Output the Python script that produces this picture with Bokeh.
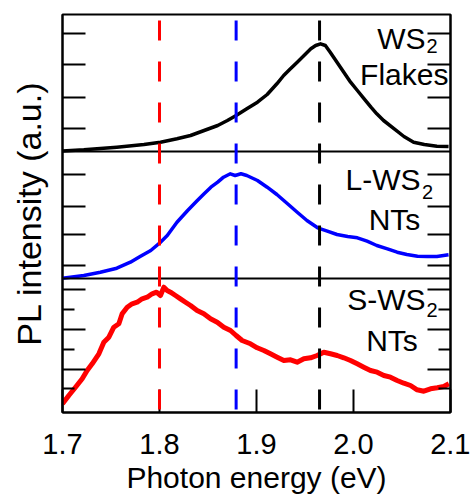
from bokeh.plotting import figure
from bokeh.models import Range1d, FixedTicker, LinearAxis, Span, Label
from bokeh.embed import file_html
from bokeh.resources import INLINE

# ---------------- data ----------------
# WS2 flakes (top panel), intensity in a.u.
flakes_energy = [1.700, 1.722, 1.756, 1.784, 1.801, 1.818, 1.832, 1.846, 1.860, 1.870,
                 1.879, 1.890, 1.901, 1.911, 1.921, 1.928, 1.935, 1.942, 1.949, 1.956,
                 1.961, 1.966, 1.971, 1.976, 1.983, 1.990, 1.997, 2.004, 2.011, 2.018,
                 2.024, 2.031, 2.042, 2.052, 2.062, 2.073, 2.086, 2.098]
flakes_intensity = [0.5, 1.7, 4.3, 7.0, 9.3, 12.7, 16.0, 21.0, 26.0, 31.0,
                    36.0, 42.7, 49.3, 57.0, 67.7, 76.0, 82.7, 89.3, 96.0, 102.7,
                    106.0, 107.7, 106.0, 99.3, 89.3, 79.3, 69.3, 61.0, 52.7, 44.3,
                    37.7, 31.0, 22.7, 15.0, 9.3, 7.0, 5.3, 5.0]

# L-WS2 NTs (middle panel)
lnt_energy = [1.700, 1.722, 1.739, 1.756, 1.770, 1.780, 1.791, 1.800, 1.808, 1.818,
              1.829, 1.839, 1.846, 1.853, 1.860, 1.866, 1.873, 1.878, 1.884, 1.890,
              1.901, 1.911, 1.921, 1.932, 1.942, 1.952, 1.963, 1.973, 1.983, 1.994,
              2.004, 2.014, 2.024, 2.035, 2.045, 2.055, 2.066, 2.076, 2.086, 2.098]
lnt_intensity = [0.3, 3.0, 6.3, 10.3, 16.3, 22.0, 28.0, 35.3, 43.0, 56.3,
                 68.0, 78.0, 84.7, 91.3, 96.3, 101.3, 104.7, 103.0, 104.7, 103.0,
                 98.0, 91.3, 84.0, 74.7, 66.3, 58.0, 50.7, 47.3, 44.0, 42.0,
                 40.7, 37.3, 33.0, 29.7, 26.3, 24.0, 22.3, 22.0, 22.0, 23.7]

# S-WS2 NTs (bottom panel)
snt_energy = [1.700, 1.7065, 1.7134, 1.7203, 1.7254, 1.7306, 1.7375, 1.7426, 1.7478, 1.7529,
              1.7581, 1.7615, 1.7667, 1.7718, 1.7770, 1.7821, 1.7873, 1.7924, 1.7969, 1.8010,
              1.8045, 1.8079, 1.8113, 1.8165, 1.8216, 1.8268, 1.8320, 1.8388, 1.8457, 1.8526,
              1.8595, 1.8663, 1.8732, 1.8790, 1.8852, 1.8938, 1.9007, 1.9076, 1.9144, 1.9213,
              1.9282, 1.9351, 1.9419, 1.9488, 1.9557, 1.9625, 1.9694, 1.9763, 1.9832, 1.9900,
              1.9969, 2.0038, 2.0106, 2.0175, 2.0244, 2.0313, 2.0381, 2.0450, 2.0519, 2.0588,
              2.0656, 2.0725, 2.0794, 2.0863, 2.0931, 2.0983]
snt_intensity = [8.7, 17.0, 25.3, 33.7, 42.0, 48.7, 58.7, 70.3, 75.3, 85.3,
                 88.7, 98.7, 105.3, 108.7, 110.3, 113.7, 115.3, 118.7, 120.3, 117.0,
                 125.3, 122.0, 120.3, 117.0, 113.7, 110.3, 107.0, 102.0, 98.7, 93.7,
                 90.3, 85.3, 82.0, 77.0, 72.0, 68.7, 64.7, 62.0, 58.7, 55.3,
                 52.0, 52.7, 50.3, 53.7, 54.7, 57.0, 60.3, 58.7, 57.0, 54.7,
                 52.0, 48.7, 45.3, 42.0, 40.3, 37.0, 35.3, 32.0, 29.3, 27.0,
                 22.7, 21.3, 23.7, 24.7, 26.0, 28.7]

# peak positions (eV) marked by dashed lines
peak_energies = [1.800, 1.879, 1.965]
peak_colors = ["#ff0000", "#0000ff", "#000000"]

# y ticks of each panel (a.u., relative to the panel's own zero)
flakes_ticks = [23, 54, 87, 118]
lnt_ticks = [13, 44, 72, 104]
snt_ticks = [43, 83, 123]
snt_minor_ticks = [24, 63, 103]

x_ticks = [1.7, 1.8, 1.9, 2.0, 2.1]
x_tick_labels = ["1.7", "1.8", "1.9", "2.0", "2.1"]

# ---------------- layout of the stacked panels ----------------
base_snt, base_lnt, base_flakes, y_top = 0, 134, 261, 398

FONT = "Liberation Sans"

p = figure(width=470, height=496, output_backend="svg", toolbar_location=None,
           x_range=Range1d(1.7, 2.1), y_range=Range1d(0, y_top),
           min_border_left=62, min_border_right=20, min_border_top=14, min_border_bottom=84)
p.background_fill_color = "white"
p.border_fill_color = "white"
p.outline_line_color = "black"
p.outline_line_width = 2
p.xgrid.visible = False
p.ygrid.visible = False

# x axis
xa = p.xaxis[0]
xa.ticker = FixedTicker(ticks=x_ticks, minor_ticks=[])
xa.major_label_overrides = {t: l for t, l in zip(x_ticks, x_tick_labels)}
xa.major_tick_in = 23
xa.major_tick_out = 0
xa.minor_tick_in = 0
xa.minor_tick_out = 0
xa.major_tick_line_width = 2
xa.axis_line_width = 2
xa.major_label_text_font = FONT
xa.major_label_text_font_size = "29px"
xa.major_label_text_color = "black"
xa.major_label_standoff = 21
xa.axis_label = "Photon energy (eV)"
xa.axis_label_text_font = FONT
xa.axis_label_text_font_size = "30px"
xa.axis_label_text_font_style = "normal"
xa.axis_label_text_color = "black"
xa.axis_label_standoff = 4

# y axis ticks, stacked per panel
y_major = ([base_flakes + t for t in flakes_ticks] + [base_lnt + t for t in lnt_ticks]
           + [base_snt + t for t in snt_ticks])
y_minor = [base_snt + t for t in snt_minor_ticks]
yticker = FixedTicker(ticks=y_major, minor_ticks=y_minor)
blank = {t: "" for t in y_major}

ya = p.yaxis[0]
ya.ticker = yticker
ya.major_label_overrides = blank
ya.major_tick_in = 23
ya.major_tick_out = 0
ya.minor_tick_in = 12
ya.minor_tick_out = 0
ya.major_tick_line_width = 2
ya.minor_tick_line_width = 2
ya.axis_line_width = 2
ya.major_label_standoff = 0
ya.axis_label = "PL intensity (a.u.)"
ya.axis_label_text_font = FONT
ya.axis_label_text_font_size = "34px"
ya.axis_label_text_font_style = "normal"
ya.axis_label_text_color = "black"
ya.axis_label_standoff = 15

ra = LinearAxis(ticker=yticker, major_label_overrides=blank, major_tick_in=23, major_tick_out=0,
                minor_tick_in=12, minor_tick_out=0, major_tick_line_width=2,
                minor_tick_line_width=2, axis_line_width=2, major_label_standoff=0)
p.add_layout(ra, "right")

# panel separators
for b in (base_lnt, base_flakes):
    p.add_layout(Span(location=b, dimension="width", line_color="black", line_width=2))

# dashed peak markers
for e, c in zip(peak_energies, peak_colors):
    p.add_layout(Span(location=e, dimension="height", line_color=c, line_width=3,
                      line_dash="20 21", line_dash_offset=35))

# curves
p.line(flakes_energy, [base_flakes + v for v in flakes_intensity],
       line_color="#000000", line_width=3.5, line_join="round")
p.line(lnt_energy, [base_lnt + v for v in lnt_intensity],
       line_color="#0000ff", line_width=3.5, line_join="round")
p.line(snt_energy, [base_snt + v for v in snt_intensity],
       line_color="#ff0000", line_width=5, line_join="round")

# panel labels (anchored at the vertical middle of the text)
def lab(x, y, text, align, size="30px"):
    p.add_layout(Label(x=x, y=y, text=text, text_align=align, text_baseline="middle",
                       text_font=FONT, text_font_size=size, text_color="black"))

lab(2.0742, 374, "WS", "right")
lab(2.0753, 366.5, "2", "left", "20px")
lab(2.0979, 338, "Flakes", "right")
lab(2.0691, 233.5, "L-WS", "right")
lab(2.0706, 220.5, "2", "left", "20px")
lab(2.0423, 193, "NTs", "center")
lab(2.0742, 113, "S-WS", "right")
lab(2.0753, 103, "2", "left", "20px")
lab(2.0397, 72, "NTs", "center")

open("out.html", "w").write(file_html(p, INLINE))
